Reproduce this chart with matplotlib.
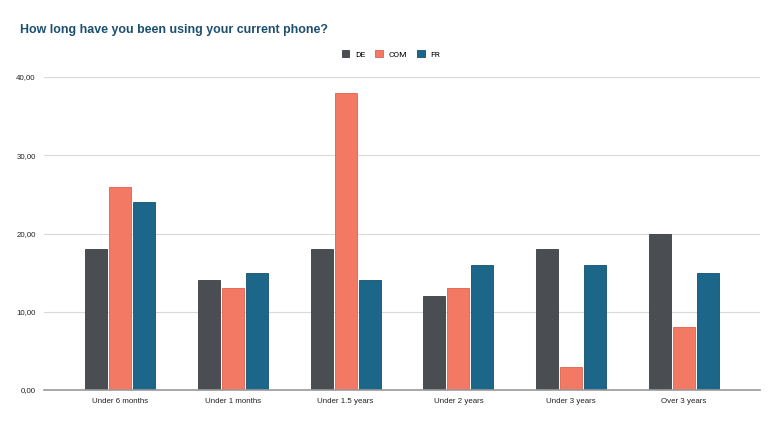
import numpy as np
import matplotlib.pyplot as plt
from matplotlib.ticker import FuncFormatter

categories = ["Under 6 months", "Under 1 months", "Under 1.5 years",
              "Under 2 years", "Under 3 years", "Over 3 years"]
de = [18, 14, 18, 12, 18, 20]
com = [26, 13, 38, 13, 3, 8]
fr = [24, 15, 14, 16, 16, 15]

plt.rcParams['font.family'] = ['Liberation Sans', 'DejaVu Sans']

fig = plt.figure(figsize=(7.82, 4.25), dpi=100)
ax = fig.add_axes([44/782, 1-390/425, 716/782, (390-77)/425])

x = np.arange(len(categories))
w = 0.195
off = 0.213
ax.bar(x - off, de, w, color='#4a4d52', edgecolor='#3a3d42', lw=0.6, label='DE', zorder=3)
ax.bar(x, com, w, color='#f47965', edgecolor='#e0604c', lw=0.6, label='COM', zorder=3)
ax.bar(x + off, fr, w, color='#1c6689', edgecolor='#12506e', lw=0.6, label='FR', zorder=3)

ax.set_xlim(-0.674, 5.674)
ax.set_ylim(0, 40)
ax.set_yticks([0, 10, 20, 30, 40])
ax.yaxis.set_major_formatter(FuncFormatter(lambda v, p: f"{v:.2f}".replace('.', ',')))
ax.set_xticks(x)
ax.set_xticklabels(categories)
ax.tick_params(axis='both', length=0, labelsize=5.7, colors='#222222')
ax.tick_params(axis='x', pad=5.5)
ax.tick_params(axis='y', pad=6)
ax.grid(axis='y', color='#d9d9d9', lw=0.8, zorder=0)
for s in ['top', 'right', 'left']:
    ax.spines[s].set_visible(False)
ax.spines['bottom'].set_color('#999999')
ax.spines['bottom'].set_linewidth(1.2)
ax.spines['bottom'].set_zorder(4)

fig.text(20/782, 1-30/425, "How long have you been using your current phone?",
         fontsize=8.9, fontweight='bold', color='#1c4f6f', va='center')
fig.legend(loc='center', bbox_to_anchor=(391/782, 1-54/425), ncol=3, frameon=False,
           prop={'family': 'Roboto', 'size': 6},
           handlelength=0.9, handleheight=0.9, handletextpad=0.7,
           columnspacing=1.2)

fig.savefig('out.png', dpi=100)
